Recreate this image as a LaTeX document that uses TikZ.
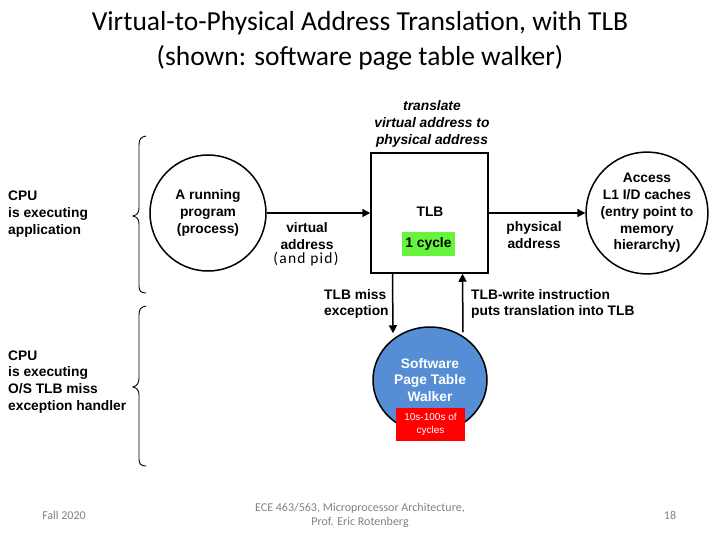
\documentclass[tikz,border=0pt]{standalone}
\usepackage{fontspec}
\setmainfont{Liberation Sans}
\newfontfamily\calfont{Carlito}
\newfontfamily\calsp[LetterSpace=8]{Carlito}
\usetikzlibrary{arrows.meta,shapes.geometric,calc}
\definecolor{tlbgreen}{RGB}{102,245,60}
\definecolor{walkblue}{RGB}{85,142,213}
\definecolor{footgray}{RGB}{130,130,130}
\begin{document}
\begin{tikzpicture}[x=1pt,y=-1pt,
  lbl/.style={font=\fontsize{13.8}{16.8}\selectfont\bfseries, inner sep=0pt},
  thick1/.style={line width=1.5pt},
  arr/.style={line width=1.5pt,-{Triangle[length=8pt,width=8pt]}},
  brc/.style={line width=0.9pt},
  foot/.style={font=\calfont\fontsize{12}{14}\selectfont, text=footgray, inner sep=0pt, align=center}]
\useasboundingbox (0,0) rectangle (720,540);
% title
\node[font=\calfont\fontsize{27.5}{35}\selectfont, align=center, inner sep=0pt] (title) at (360,41)
  {Virtual-to-Physical Address Translation, with TLB\\(shown: software page table walker)};
% left labels
\node[lbl, align=left, anchor=west] (app) at (8,214) {CPU\\is executing\\application};
\node[lbl, align=left, anchor=west] (os) at (8,382) {CPU\\is executing\\O/S TLB miss\\exception handler};
% braces
\draw[brc] (146,136) .. controls (141,137) and (139,139) .. (139,145)
  -- (139,208) .. controls (139,213) and (137,215) .. (133,216)
  .. controls (137,217) and (139,219) .. (139,224)
  -- (139,286) .. controls (139,291) and (141,293) .. (146,293);
\draw[brc] (146,306) .. controls (141,307) and (139,309) .. (139,315)
  -- (139,378) .. controls (139,383) and (137,386) .. (133,387)
  .. controls (137,388) and (139,390) .. (139,395)
  -- (139,459) .. controls (139,464) and (141,466) .. (146,466);
% running program
\node[circle, draw, thick1, minimum size=116pt, lbl, align=center] (prog) at (208,213) {A running\\program\\(process)};
% TLB
\node[draw, thick1, minimum width=117pt, minimum height=120pt, inner sep=0pt] (tlb) at (429.5,213) {};
\node[lbl] (tlbtxt) at (430,212) {TLB};
\node[fill=tlbgreen, minimum width=53pt, minimum height=24pt, inner sep=0pt, lbl] (cyc) at (428.5,243.5) {1 cycle};
\node[lbl, align=center, font=\fontsize{13.8}{16.8}\selectfont\bfseries\itshape] (transl) at (432,124)
  {translate\\virtual address to\\physical address};
% access circle
\node[circle, draw, thick1, minimum size=110pt, lbl, align=center] (acc) at (647,213)
  {Access\\L1 I/D caches\\(entry point to\\memory\\hierarchy)};
% walker
\node[ellipse, draw, thick1, fill=walkblue, minimum width=114pt, minimum height=106pt] (walk) at (430,380) {};
\node[lbl, text=white, align=center] (walktxt) at (430,380) {Software\\Page Table\\Walker};
\node[fill=red, text=white, minimum width=69pt, minimum height=33pt, inner sep=0pt, align=center,
  font=\fontsize{10}{13}\selectfont] (slow) at (430.5,424.5) {10s-100s of\\cycles};
% arrows
\draw[arr] (prog.east) -- (tlb.west);
\draw[arr] (tlb.east) -- (acc.west);
\draw[arr] ([xshift=-37pt]tlb.south) -- ([xshift=-37pt,yshift=-7pt]walk.north);
\draw[arr] ([xshift=33pt,yshift=-6pt]walk.north) -- ([xshift=33pt]tlb.south);
% arrow labels
\node[lbl, align=center] (va) at (307,236) {virtual\\address};
\node[font=\calsp\fontsize{15.5}{16}\selectfont, inner sep=0pt] (pid) at (306,259) {(and pid)};
\node[lbl, align=center] (pa) at (534,235) {physical\\address};
\node[lbl, align=left, anchor=west] (miss) at (324,304) {TLB miss\\exception};
\node[lbl, align=left, anchor=west] (wr) at (471,304) {TLB-write instruction\\puts translation into TLB};
% footer
\node[foot] (fall) at (64,515) {Fall 2020};
\node[foot] (course) at (360,515) {ECE 463/563, Microprocessor Architecture,\\Prof. Eric Rotenberg};
\node[foot] (page) at (670,515) {18};
\end{tikzpicture}
\end{document}
